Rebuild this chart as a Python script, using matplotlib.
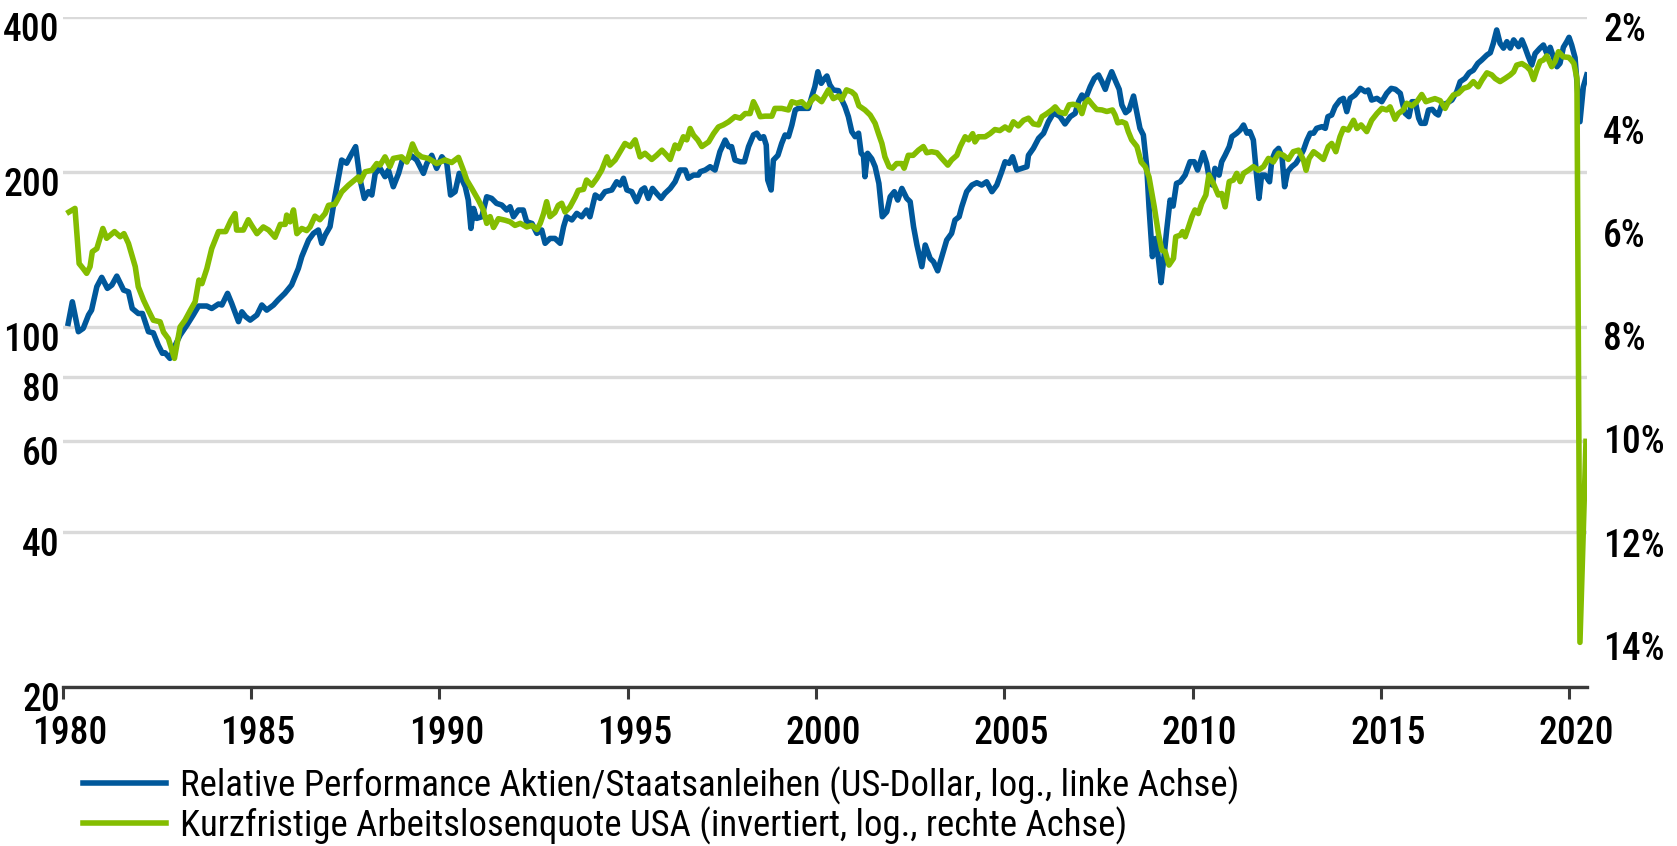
import matplotlib
matplotlib.use("Agg")
import matplotlib.pyplot as plt
import matplotlib.transforms as mtransforms
from matplotlib.ticker import NullLocator

plt.rcParams['font.family'] = ['Roboto Condensed', 'PT Sans Narrow', 'DejaVu Sans']

# Relative Performance Aktien/Staatsanleihen (log, linke Achse)
blue_years = [
    1980.15, 1980.26, 1980.42, 1980.55, 1980.69, 1980.77, 1980.91, 1981.04, 1981.19, 1981.31,
    1981.44, 1981.62, 1981.75, 1981.85, 1982.01, 1982.12, 1982.28, 1982.41, 1982.54, 1982.65,
    1982.72, 1982.85, 1982.97, 1983.12, 1983.30, 1983.47, 1983.61, 1983.83, 1983.96, 1984.14,
    1984.23, 1984.38, 1984.49, 1984.67, 1984.76, 1984.86, 1984.98, 1985.16, 1985.29, 1985.42,
    1985.60, 1985.72, 1985.90, 1986.08, 1986.26, 1986.35, 1986.53, 1986.66, 1986.79, 1986.88,
    1986.97, 1987.10, 1987.23, 1987.41, 1987.54, 1987.68, 1987.78, 1987.90, 1988.01, 1988.12,
    1988.21, 1988.30, 1988.43, 1988.56, 1988.65, 1988.78, 1988.92, 1989.02, 1989.14, 1989.27,
    1989.40, 1989.58, 1989.67, 1989.80, 1989.93, 1990.07, 1990.20, 1990.30, 1990.42, 1990.53,
    1990.69, 1990.77, 1990.84, 1990.91, 1990.99, 1991.13, 1991.26, 1991.39, 1991.52, 1991.66,
    1991.79, 1991.88, 1991.97, 1992.10, 1992.23, 1992.32, 1992.46, 1992.59, 1992.72, 1992.81,
    1992.94, 1993.07, 1993.21, 1993.30, 1993.38, 1993.52, 1993.65, 1993.78, 1993.91, 1994.00,
    1994.14, 1994.27, 1994.40, 1994.58, 1994.71, 1994.80, 1994.89, 1994.98, 1995.11, 1995.24,
    1995.37, 1995.45, 1995.55, 1995.66, 1995.77, 1995.89, 1995.99, 1996.13, 1996.26, 1996.39,
    1996.53, 1996.61, 1996.75, 1996.88, 1996.93, 1997.06, 1997.19, 1997.32, 1997.45, 1997.59,
    1997.68, 1997.76, 1997.85, 1997.99, 1998.10, 1998.21, 1998.34, 1998.43, 1998.52, 1998.61,
    1998.68, 1998.72, 1998.81, 1998.87, 1998.99, 1999.09, 1999.18, 1999.27, 1999.36, 1999.45,
    1999.53, 1999.62, 1999.71, 1999.80, 1999.89, 1999.97, 2000.05, 2000.14, 2000.21, 2000.29,
    2000.37, 2000.46, 2000.60, 2000.68, 2000.77, 2000.86, 2000.95, 2001.04, 2001.13, 2001.20,
    2001.26, 2001.30, 2001.37, 2001.48, 2001.57, 2001.67, 2001.76, 2001.88, 2001.97, 2002.08,
    2002.17, 2002.28, 2002.41, 2002.50, 2002.59, 2002.68, 2002.81, 2002.90, 2003.03, 2003.12,
    2003.23, 2003.34, 2003.47, 2003.60, 2003.69, 2003.80, 2003.87, 2004.00, 2004.14, 2004.27,
    2004.40, 2004.53, 2004.67, 2004.80, 2004.93, 2005.02, 2005.13, 2005.22, 2005.33, 2005.46,
    2005.60, 2005.64, 2005.77, 2005.91, 2006.04, 2006.17, 2006.30, 2006.40, 2006.48, 2006.61,
    2006.75, 2006.88, 2006.97, 2007.06, 2007.14, 2007.28, 2007.39, 2007.50, 2007.59, 2007.68,
    2007.76, 2007.85, 2007.96, 2008.05, 2008.12, 2008.22, 2008.31, 2008.43, 2008.52, 2008.60,
    2008.69, 2008.78, 2008.84, 2008.93, 2009.02, 2009.09, 2009.16, 2009.22, 2009.31, 2009.40,
    2009.48, 2009.57, 2009.67, 2009.80, 2009.93, 2010.04, 2010.13, 2010.22, 2010.28, 2010.37,
    2010.46, 2010.52, 2010.59, 2010.70, 2010.77, 2010.86, 2010.97, 2011.04, 2011.17, 2011.26,
    2011.35, 2011.44, 2011.52, 2011.61, 2011.70, 2011.76, 2011.83, 2011.92, 2012.04, 2012.10,
    2012.19, 2012.28, 2012.37, 2012.44, 2012.52, 2012.63, 2012.74, 2012.85, 2012.94, 2013.03,
    2013.12, 2013.21, 2013.29, 2013.43, 2013.52, 2013.59, 2013.69, 2013.78, 2013.91, 2014.00,
    2014.09, 2014.18, 2014.31, 2014.45, 2014.58, 2014.66, 2014.75, 2014.89, 2015.02, 2015.15,
    2015.27, 2015.38, 2015.51, 2015.57, 2015.64, 2015.74, 2015.82, 2015.91, 2016.00, 2016.06,
    2016.17, 2016.26, 2016.36, 2016.45, 2016.52, 2016.61, 2016.74, 2016.88, 2017.01, 2017.10,
    2017.23, 2017.34, 2017.45, 2017.57, 2017.67, 2017.81, 2017.90, 2017.98, 2018.07, 2018.16,
    2018.25, 2018.34, 2018.43, 2018.52, 2018.65, 2018.74, 2018.82, 2018.91, 2019.00, 2019.09,
    2019.22, 2019.31, 2019.40, 2019.49, 2019.58, 2019.67, 2019.75, 2019.84, 2019.93, 2019.99,
    2020.06, 2020.15, 2020.22, 2020.28, 2020.37, 2020.46,
]
blue_vals = [
    101.5, 111.8, 97.8, 99.3, 105.4, 107.7, 119.6, 124.7, 118.7, 120.5,
    125.4, 117.8, 116.9, 108.5, 106.1, 106.1, 97.8, 97.3, 92.1, 88.8,
    89.0, 86.8, 91.4, 96.3, 100.7, 105.4, 109.7, 109.7, 108.5, 110.7,
    110.2, 116.1, 111.0, 102.3, 106.9, 104.6, 103.0, 105.4, 110.2, 107.7,
    110.2, 112.7, 116.1, 120.5, 129.8, 136.8, 147.3, 151.8, 154.1, 145.2,
    150.6, 156.4, 178.8, 210.7, 207.7, 217.1, 223.7, 192.7, 177.5, 182.9,
    180.2, 198.5, 203.0, 195.6, 201.5, 187.0, 198.5, 210.7, 210.7, 214.5,
    210.7, 198.5, 207.6, 215.2, 203.0, 213.8, 207.6, 180.2, 182.9, 198.5,
    187.0, 176.2, 155.2, 169.7, 162.3, 163.5, 178.8, 177.5, 173.6, 172.3,
    168.5, 171.0, 163.5, 168.5, 168.5, 159.9, 158.7, 151.8, 154.1, 145.2,
    148.4, 148.4, 145.2, 156.4, 163.5, 161.2, 166.0, 163.5, 168.5, 163.5,
    180.2, 177.5, 182.9, 184.3, 191.2, 188.4, 194.2, 184.3, 182.9, 174.9,
    184.3, 186.0, 177.5, 185.6, 181.5, 177.5, 181.5, 185.6, 191.2, 201.5,
    201.5, 194.2, 197.0, 197.0, 200.0, 201.5, 204.5, 201.5, 218.7, 230.4,
    223.7, 223.7, 210.7, 209.1, 209.1, 223.7, 235.7, 237.6, 232.2, 233.9,
    225.3, 192.7, 184.3, 210.7, 215.2, 227.0, 235.7, 233.9, 246.4, 263.5,
    265.5, 265.5, 265.5, 265.5, 280.0, 292.5, 312.7, 296.9, 302.2, 306.8,
    294.7, 288.2, 287.3, 276.4, 267.5, 255.8, 239.2, 233.9, 237.6, 217.1,
    215.2, 195.6, 217.1, 211.9, 204.5, 189.8, 163.5, 167.2, 178.8, 182.9,
    176.2, 185.6, 177.5, 174.9, 156.4, 144.1, 130.8, 144.1, 135.7, 133.7,
    128.4, 136.8, 147.3, 151.8, 161.1, 163.5, 171.0, 182.9, 188.4, 190.4,
    188.4, 191.2, 182.9, 188.4, 200.0, 209.1, 207.6, 213.8, 201.5, 203.0,
    204.5, 215.2, 222.0, 232.2, 237.4, 250.1, 259.6, 258.0, 255.8, 247.6,
    255.8, 259.6, 273.6, 281.8, 275.5, 292.5, 303.6, 308.2, 299.1, 289.0,
    301.3, 312.7, 299.1, 289.0, 269.5, 260.4, 263.5, 280.5, 259.6, 242.8,
    235.7, 204.5, 171.0, 136.8, 148.4, 135.7, 121.8, 132.8, 154.1, 176.2,
    171.5, 189.8, 191.2, 197.0, 209.1, 209.1, 201.5, 210.7, 217.8, 207.6,
    190.4, 188.4, 203.0, 197.0, 209.1, 215.2, 223.7, 233.9, 237.6, 241.0,
    246.4, 237.6, 239.2, 230.4, 195.6, 177.5, 197.0, 197.0, 191.2, 210.7,
    218.7, 222.0, 213.8, 187.0, 200.0, 204.5, 207.6, 213.8, 220.3, 230.0,
    237.6, 237.6, 242.8, 244.6, 242.8, 255.8, 257.7, 267.5, 275.5, 277.6,
    261.6, 277.6, 281.8, 290.3, 286.0, 288.2, 275.5, 277.6, 273.5, 283.9,
    290.3, 289.1, 283.9, 271.5, 259.6, 255.8, 273.5, 273.5, 253.9, 248.3,
    248.3, 263.5, 264.3, 259.6, 257.7, 269.5, 271.5, 275.5, 286.0, 299.1,
    303.6, 311.4, 314.9, 324.7, 329.4, 337.0, 340.4, 355.0, 376.9, 355.0,
    347.5, 357.7, 347.5, 360.5, 349.8, 360.5, 348.8, 334.5, 322.2, 339.2,
    347.5, 352.4, 339.2, 348.8, 333.0, 319.8, 324.7, 348.8, 357.7, 364.7,
    352.4, 333.0, 286.0, 250.1, 292.5, 308.2,
]

# Kurzfristige Arbeitslosenquote USA in % (invertiert, rechte Achse)
green_years = [
    1980.17, 1980.33, 1980.44, 1980.55, 1980.64, 1980.73, 1980.79, 1980.91, 1981.07, 1981.17,
    1981.38, 1981.53, 1981.63, 1981.75, 1981.93, 1982.01, 1982.15, 1982.28, 1982.41, 1982.59,
    1982.68, 1982.81, 1982.97, 1983.12, 1983.25, 1983.39, 1983.52, 1983.62, 1983.70, 1983.83,
    1983.96, 1984.14, 1984.33, 1984.47, 1984.58, 1984.62, 1984.80, 1984.93, 1985.02, 1985.16,
    1985.33, 1985.47, 1985.64, 1985.78, 1985.91, 1985.95, 1986.04, 1986.13, 1986.22, 1986.35,
    1986.48, 1986.57, 1986.70, 1986.83, 1986.97, 1987.06, 1987.23, 1987.41, 1987.59, 1987.85,
    1987.90, 1988.03, 1988.21, 1988.34, 1988.43, 1988.56, 1988.69, 1988.78, 1989.00, 1989.14,
    1989.29, 1989.40, 1989.53, 1989.71, 1989.93, 1990.15, 1990.33, 1990.51, 1990.64, 1990.73,
    1990.86, 1991.04, 1991.17, 1991.26, 1991.35, 1991.44, 1991.57, 1991.75, 1991.88, 1992.01,
    1992.15, 1992.32, 1992.46, 1992.59, 1992.68, 1992.77, 1992.85, 1992.94, 1993.07, 1993.16,
    1993.25, 1993.34, 1993.47, 1993.61, 1993.69, 1993.83, 1993.91, 1994.05, 1994.18, 1994.31,
    1994.45, 1994.53, 1994.67, 1994.80, 1994.93, 1995.07, 1995.20, 1995.33, 1995.46, 1995.64,
    1995.77, 1995.91, 1996.04, 1996.13, 1996.26, 1996.35, 1996.48, 1996.57, 1996.66, 1996.75,
    1996.86, 1996.97, 1997.15, 1997.28, 1997.41, 1997.54, 1997.68, 1997.85, 1997.99, 1998.12,
    1998.25, 1998.34, 1998.43, 1998.52, 1998.65, 1998.83, 1998.91, 1999.09, 1999.27, 1999.36,
    1999.49, 1999.62, 1999.76, 1999.89, 1999.98, 2000.15, 2000.33, 2000.46, 2000.60, 2000.68,
    2000.81, 2000.95, 2001.04, 2001.14, 2001.30, 2001.44, 2001.57, 2001.66, 2001.75, 2001.83,
    2001.94, 2002.03, 2002.14, 2002.28, 2002.34, 2002.45, 2002.58, 2002.72, 2002.85, 2002.94,
    2003.07, 2003.21, 2003.34, 2003.50, 2003.60, 2003.74, 2003.83, 2003.96, 2004.05, 2004.16,
    2004.22, 2004.31, 2004.49, 2004.62, 2004.75, 2004.88, 2005.02, 2005.13, 2005.24, 2005.37,
    2005.51, 2005.64, 2005.77, 2005.91, 2006.00, 2006.13, 2006.26, 2006.35, 2006.46, 2006.61,
    2006.72, 2006.83, 2006.97, 2007.06, 2007.14, 2007.23, 2007.34, 2007.45, 2007.59, 2007.72,
    2007.87, 2007.94, 2008.01, 2008.12, 2008.22, 2008.29, 2008.38, 2008.52, 2008.63, 2008.74,
    2008.84, 2008.98, 2009.09, 2009.18, 2009.27, 2009.37, 2009.49, 2009.55, 2009.67, 2009.73,
    2009.80, 2009.89, 2009.98, 2010.06, 2010.15, 2010.24, 2010.35, 2010.43, 2010.55, 2010.68,
    2010.77, 2010.86, 2010.97, 2011.08, 2011.17, 2011.26, 2011.35, 2011.48, 2011.61, 2011.74,
    2011.88, 2012.01, 2012.14, 2012.28, 2012.41, 2012.54, 2012.67, 2012.81, 2012.94, 2013.01,
    2013.09, 2013.21, 2013.34, 2013.47, 2013.60, 2013.69, 2013.80, 2013.91, 2014.00, 2014.13,
    2014.27, 2014.36, 2014.47, 2014.62, 2014.75, 2014.89, 2015.02, 2015.15, 2015.24, 2015.37,
    2015.46, 2015.59, 2015.68, 2015.82, 2015.95, 2016.08, 2016.19, 2016.30, 2016.43, 2016.57,
    2016.70, 2016.79, 2016.92, 2017.05, 2017.19, 2017.32, 2017.45, 2017.58, 2017.68, 2017.81,
    2017.94, 2018.03, 2018.16, 2018.29, 2018.43, 2018.52, 2018.60, 2018.74, 2018.87, 2018.96,
    2019.05, 2019.13, 2019.22, 2019.31, 2019.40, 2019.53, 2019.62, 2019.71, 2019.84, 2019.98,
    2020.06, 2020.12, 2020.20, 2020.28, 2020.44,
]
green_vals = [
    5.79, 5.72, 6.79, 6.89, 6.98, 6.85, 6.56, 6.50, 6.11, 6.30,
    6.17, 6.27, 6.21, 6.40, 6.85, 7.24, 7.50, 7.70, 7.89, 7.92,
    8.12, 8.25, 8.63, 8.02, 7.89, 7.70, 7.53, 7.11, 7.18, 6.89,
    6.50, 6.17, 6.17, 5.95, 5.82, 6.14, 6.14, 5.94, 6.05, 6.21,
    6.08, 6.14, 6.28, 6.03, 6.03, 5.85, 5.98, 5.75, 6.21, 6.11,
    6.15, 6.08, 5.87, 5.94, 5.82, 5.66, 5.64, 5.40, 5.27, 5.11,
    5.20, 5.01, 4.98, 4.85, 4.88, 4.72, 4.91, 4.75, 4.72, 4.82,
    4.47, 4.65, 4.72, 4.75, 4.85, 4.78, 4.83, 4.73, 4.98, 5.17,
    5.33, 5.56, 5.75, 6.01, 5.88, 6.09, 5.92, 5.95, 5.98, 6.05,
    6.01, 6.08, 6.05, 6.13, 6.01, 5.82, 5.59, 5.88, 5.80, 5.66,
    5.62, 5.79, 5.69, 5.50, 5.37, 5.35, 5.17, 5.27, 5.14, 4.98,
    4.72, 4.88, 4.78, 4.62, 4.46, 4.52, 4.39, 4.72, 4.65, 4.77,
    4.69, 4.59, 4.69, 4.77, 4.49, 4.56, 4.33, 4.39, 4.17, 4.30,
    4.39, 4.52, 4.43, 4.27, 4.14, 4.10, 4.04, 3.94, 3.97, 3.88,
    3.88, 3.65, 3.78, 3.94, 3.93, 3.93, 3.78, 3.78, 3.81, 3.65,
    3.68, 3.65, 3.75, 3.62, 3.55, 3.65, 3.42, 3.59, 3.54, 3.61,
    3.42, 3.46, 3.52, 3.73, 3.81, 3.91, 4.07, 4.27, 4.46, 4.72,
    4.91, 4.94, 4.85, 4.85, 4.94, 4.69, 4.69, 4.59, 4.52, 4.64,
    4.62, 4.64, 4.75, 4.88, 4.78, 4.69, 4.52, 4.33, 4.39, 4.27,
    4.43, 4.33, 4.33, 4.27, 4.19, 4.21, 4.14, 4.20, 4.04, 4.12,
    4.01, 3.97, 4.08, 4.10, 3.94, 3.88, 3.81, 3.75, 3.85, 3.88,
    3.71, 3.70, 3.73, 3.88, 3.68, 3.61, 3.71, 3.80, 3.81, 3.84,
    3.81, 3.91, 4.06, 4.04, 4.07, 4.23, 4.39, 4.52, 4.82, 4.91,
    5.11, 5.69, 6.21, 6.53, 6.56, 6.82, 6.69, 6.27, 6.24, 6.17,
    6.27, 6.08, 5.88, 5.75, 5.82, 5.62, 5.46, 5.07, 5.24, 5.46,
    5.43, 5.69, 5.20, 5.17, 5.04, 5.20, 5.04, 4.98, 4.91, 4.98,
    4.91, 4.75, 4.82, 4.65, 4.69, 4.77, 4.62, 4.59, 4.78, 4.98,
    4.75, 4.62, 4.69, 4.77, 4.52, 4.46, 4.62, 4.33, 4.17, 4.20,
    4.01, 4.17, 4.10, 4.23, 4.01, 3.88, 3.78, 3.81, 3.75, 3.99,
    3.88, 3.81, 3.68, 3.73, 3.65, 3.51, 3.65, 3.62, 3.59, 3.63,
    3.78, 3.65, 3.52, 3.49, 3.39, 3.36, 3.26, 3.36, 3.23, 3.09,
    3.13, 3.20, 3.26, 3.20, 3.13, 3.07, 2.94, 2.91, 2.97, 3.04,
    3.22, 3.04, 2.87, 2.84, 2.76, 2.97, 2.87, 2.68, 2.78, 2.79,
    2.85, 2.91, 3.20, 14.14, 10.24,
]

left_ticks = [20, 40, 60, 80, 100, 200, 400]
right_ticks = [2, 4, 6, 8, 10, 12, 14]
x_ticks = [1980, 1985, 1990, 1995, 2000, 2005, 2010, 2015, 2020]

label_blue = 'Relative Performance Aktien/Staatsanleihen (US-Dollar, log., linke Achse)'
label_green = 'Kurzfristige Arbeitslosenquote USA (invertiert, log., rechte Achse)'

BLUE = '#00589b'
GREEN = '#84bd00'
DARK = '#3a3a3a'
GRID = '#dadada'

fig = plt.figure(figsize=(16.77, 8.46), dpi=100)
ax = fig.add_axes([0.0373, 0.1883, 0.9091, 0.7920])

ax.set_yscale('log')
ax.set_ylim(20, 400)
ax.set_yticks(left_ticks)
ax.set_yticklabels([str(t) for t in left_ticks])
ax.yaxis.set_minor_locator(NullLocator())
ax.set_xlim(1980, 2020.47)
ax.set_xticks(x_ticks)
ax.set_xticklabels([str(t) for t in x_ticks])

ax.grid(axis='y', color=GRID, lw=2.4)
ax.set_axisbelow(True)
for s in ['top', 'left', 'right']:
    ax.spines[s].set_visible(False)
ax.spines['bottom'].set_color(DARK)
ax.spines['bottom'].set_linewidth(2.4)
ax.tick_params(axis='y', length=0, pad=2, labelsize=27)
ax.tick_params(axis='x', direction='out', length=8.4, width=2.2, color=DARK,
               pad=12, labelsize=27)

line_b, = ax.plot(blue_years, blue_vals, color=BLUE, lw=4.0, solid_joinstyle='round')

ax2 = ax.twinx()
ax2.set_ylim(15, 2)
ax2.set_yticks(right_ticks)
ax2.set_yticklabels([f'{t}%' for t in right_ticks])
for s in ax2.spines.values():
    s.set_visible(False)
ax2.tick_params(axis='y', length=0, pad=11.5, labelsize=27)
line_g, = ax2.plot(green_years, green_vals, color=GREEN, lw=4.0, solid_joinstyle='round')

for lab in ax.get_xticklabels() + ax.get_yticklabels() + ax2.get_yticklabels():
    lab.set_fontweight('medium')

# labels sit a little below their grid line, year labels a little to the right
down = mtransforms.ScaledTranslation(0, -0.10, fig.dpi_scale_trans)
for lab in ax.get_yticklabels() + ax2.get_yticklabels():
    lab.set_transform(lab.get_transform() + down)
right_shift = mtransforms.ScaledTranslation(0.07, 0, fig.dpi_scale_trans)
for lab in ax.get_xticklabels():
    lab.set_transform(lab.get_transform() + right_shift)

fig.legend([line_b, line_g], [label_blue, label_green], loc='upper left',
           bbox_to_anchor=(0.0495, 0.094), frameon=False, fontsize=26.5,
           handlelength=2.25, handletextpad=0.38, labelspacing=0.04,
           borderpad=0, borderaxespad=0)

fig.savefig('out.png', dpi=100)
